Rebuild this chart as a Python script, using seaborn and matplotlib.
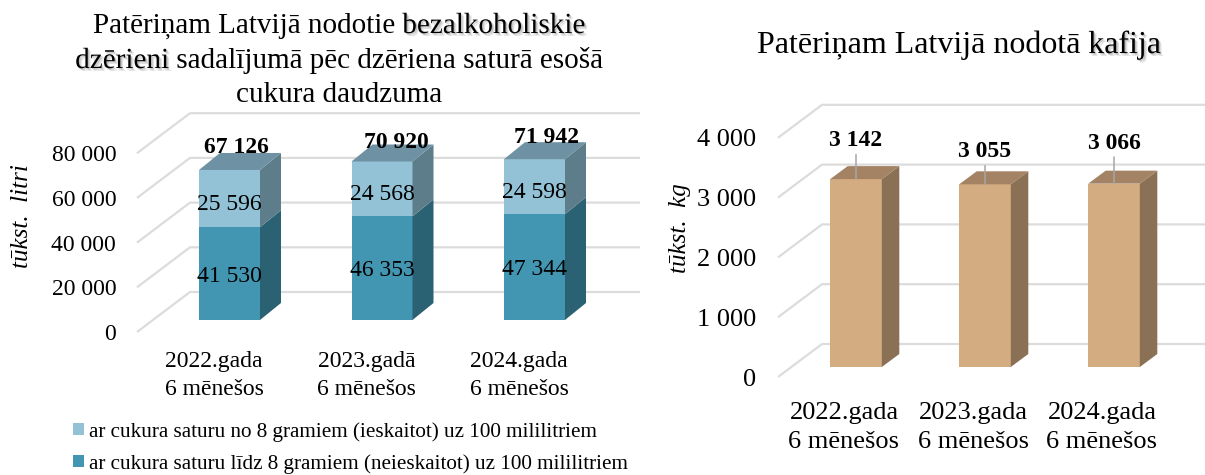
import matplotlib
matplotlib.use('Agg')
import matplotlib.pyplot as plt
import matplotlib.patheffects as pe
from matplotlib.patches import Patch
from matplotlib.transforms import ScaledTranslation
import pandas as pd
import seaborn as sns

# dati
periods = ['2022.gada\n6 mēnešos', '2023.gadā\n6 mēnešos', '2024.gada\n6 mēnešos']
periods_coffee = ['2022.gada\n6 mēnešos', '2023.gada\n6 mēnešos', '2024.gada\n6 mēnešos']
sugar_low = [41530, 46353, 47344]
sugar_high = [25596, 24568, 24598]
drink_totals = [67126, 70920, 71942]
coffee = [3142, 3055, 3066]
drink_ticks = [0, 20000, 40000, 60000, 80000]
coffee_ticks = [0, 1000, 2000, 3000, 4000]
legend_labels = ['ar cukura saturu no 8 gramiem (ieskaitot) uz 100 mililitriem',
                 'ar cukura saturu līdz 8 gramiem (neieskaitot) uz 100 mililitriem']

W, H = 1205, 475
sns.set_theme(style='white')
plt.rcParams['font.family'] = ['Liberation Serif', 'DejaVu Serif']
plt.rcParams['text.color'] = 'black'
plt.rcParams['xtick.labelcolor'] = 'black'
plt.rcParams['ytick.labelcolor'] = 'black'

fig = plt.figure(figsize=(W / 100, H / 100), dpi=100)
GRID = '#DCDCDC'


def fmt(v):
    return f'{v:,}'.replace(',', ' ')


def px_shift(ax, dx, dy):
    return ScaledTranslation(dx / 100, -dy / 100, fig.dpi_scale_trans)


def make_axes(left, right, top, bottom):
    return fig.add_axes([left / W, 1 - bottom / H, (right - left) / W, (bottom - top) / H])


def title_line(parts, cx, cy, size):
    # rindu liek pa gabaliem, jo ēna ir tikai uz daļas vārdu
    rend = fig.canvas.get_renderer()
    probe = fig.text(0, 0, '', fontsize=size)

    def width(s):
        probe.set_text(s + 'x')
        w = probe.get_window_extent(rend).width
        probe.set_text('x')
        return w - probe.get_window_extent(rend).width

    whole = ''.join(p[0] for p in parts)
    x = cx - width(whole) / 2
    prefix = ''
    for s, shadow in parts:
        t = fig.text((x + width(prefix)) / W, 1 - cy / H, s, fontsize=size, ha='left', va='center_baseline')
        if shadow:
            t.set_path_effects([
                pe.SimplePatchShadow(offset=(2, -2), shadow_rgbFace='#777777', alpha=0.22),
                pe.SimplePatchShadow(offset=(1, -1), shadow_rgbFace='#777777', alpha=0.35),
                pe.Normal()])
        prefix += s
    probe.remove()


def walls(ax, ticks, x_left, x_right, wall_dx, wall_dy, front_y):
    for v in ticks:
        ax.plot([x_left, x_left + wall_dx, x_right],
                [v + front_y, v + front_y + wall_dy, v + front_y + wall_dy],
                color=GRID, lw=1.6, zorder=1, clip_on=False, solid_capstyle='butt')


def box_faces(ax, xs, bottoms, tops, half, dx, dy, side, top=None):
    for x, b, t in zip(xs, bottoms, tops):
        r = x + half
        ax.fill([r, r + dx, r + dx, r], [b, b + dy, t + dy, t], color=side, lw=0, zorder=3)
        if top is not None:
            ax.fill([r - 2 * half, r - 2 * half + dx, r + dx, r], [t, t + dy, t + dy, t], color=top, lw=0, zorder=3)


# ---- bezalkoholiskie dzērieni ----
ax = make_axes(137, 640, 113, 332)
df = pd.DataFrame({'period': periods, 'low': sugar_low, 'total': drink_totals})
sns.barplot(df, x='period', y='total', color='#93C1D5', saturation=1, width=0.4, linewidth=0, ax=ax, zorder=3)
sns.barplot(df, x='period', y='low', color='#4296B2', saturation=1, width=0.4, linewidth=0, ax=ax, zorder=3)

px_x = 152.5
px_y = 2.235 / 1000
ax.set_xlim((137 - 229.5) / px_x, (640 - 229.5) / px_x)
ax.set_ylim(-12 / px_y, 207 / px_y)
xs = range(3)
walls(ax, drink_ticks, ax.get_xlim()[0], ax.get_xlim()[1], 53 / px_x, 40 / px_y, -12 / px_y)
box_faces(ax, xs, [0] * 3, sugar_low, 0.2, 21 / px_x, 17 / px_y, '#2A6273')
box_faces(ax, xs, sugar_low, drink_totals, 0.2, 21 / px_x, 17 / px_y, '#5E7D8A', top='#6E92A3')

total_nudge = [(7, -25), (14, -21), (12, -24)]
high_nudge = [3, 3, 3]
for i in xs:
    ax.annotate(fmt(sugar_low[i]), (i, sugar_low[i] / 2), ha='center', va='center_baseline',
                fontsize=17, zorder=5)
    ax.annotate(fmt(sugar_high[i]), (i, sugar_low[i] + sugar_high[i] / 2), xytext=(0, -high_nudge[i] * 0.72),
                textcoords='offset points', ha='center', va='center_baseline', fontsize=17, zorder=5)
    ax.annotate(fmt(drink_totals[i]), (i, drink_totals[i]),
                xytext=(total_nudge[i][0] * 0.72, -total_nudge[i][1] * 0.72),
                textcoords='offset points', ha='center', va='center_baseline',
                fontsize=17, fontweight='bold', zorder=5)

ax.set_yticks(drink_ticks, [fmt(v) for v in drink_ticks])
ax.set_xticks(list(xs), periods)
ax.tick_params(axis='y', length=0, pad=15, labelsize=17)
ax.tick_params(axis='x', length=0, pad=14, labelsize=17)
for lab in ax.get_yticklabels():
    lab.set_transform(lab.get_transform() + px_shift(ax, 0, 12))
for lab in ax.get_xticklabels():
    lab.set_transform(lab.get_transform() + px_shift(ax, -15.5, 0))
    lab.set_linespacing(1.44)
ax.set_xlabel('')
ax.set_ylabel('')
sns.despine(ax=ax, left=True, bottom=True)
fig.text(22 / W, 1 - 216 / H, 'tūkst.  litri', rotation=90, style='italic', fontsize=18, ha='center', va='center')

title_line([('Patēriņam Latvijā nodotie ', False), ('bezalkoholiskie', True)], 339, 23, 21)
title_line([('dzērieni', True), (' sadalījumā pēc dzēriena saturā esošā', False)], 339, 58, 21)
title_line([('cukura daudzuma', False)], 339, 92, 21)

handles = [Patch(color='#93C1D5', lw=0), Patch(color='#4296B2', lw=0)]
fig.legend(handles, legend_labels, loc='upper left', bbox_to_anchor=(73 / W, 1 - 422 / H), frameon=False,
           fontsize=15.2, handlelength=0.52, handleheight=0.52, handletextpad=0.22,
           borderpad=0, borderaxespad=0, labelspacing=0.57)

# ---- kafija ----
ax2 = make_axes(778, 1205, 104, 377)
cf = pd.DataFrame({'period': periods_coffee, 'coffee': coffee})
sns.barplot(cf, x='period', y='coffee', color='#D4AC82', saturation=1, width=0.4, linewidth=0, ax=ax2, zorder=3)

px_x2 = 129
px_y2 = 59.8 / 1000
ax2.set_xlim((778 - 856) / px_x2, (1205 - 856) / px_x2)
ax2.set_ylim(-10 / px_y2, 263 / px_y2)
walls(ax2, coffee_ticks, ax2.get_xlim()[0], ax2.get_xlim()[1], 44 / px_x2, 33 / px_y2, -10 / px_y2)
box_faces(ax2, xs, [0] * 3, coffee, 0.2, 17.5 / px_x2, 13 / px_y2, '#8A7054', top='#A38363')

coffee_nudge = [41, 35, 43]
for i in xs:
    ax2.annotate(fmt(coffee[i]), (i, coffee[i]), xytext=(0, coffee_nudge[i] * 0.72),
                 textcoords='offset points', ha='center', va='center_baseline',
                 fontsize=17, fontweight='bold', zorder=5,
                 arrowprops=dict(arrowstyle='-', color='#A6A6A6', lw=1.1, shrinkA=0, shrinkB=0, relpos=(0.5, 0)))

ax2.set_yticks(coffee_ticks, [fmt(v) for v in coffee_ticks])
ax2.set_xticks(list(xs), periods_coffee)
ax2.tick_params(axis='y', length=0, pad=16, labelsize=19)
ax2.tick_params(axis='x', length=0, pad=18, labelsize=19)
for lab in ax2.get_yticklabels():
    lab.set_transform(lab.get_transform() + px_shift(ax2, 0, 10))
for lab in ax2.get_xticklabels():
    lab.set_transform(lab.get_transform() + px_shift(ax2, -12, 0))
    lab.set_linespacing(1.4)
ax2.set_xlabel('')
ax2.set_ylabel('')
sns.despine(ax=ax2, left=True, bottom=True)
fig.text(680 / W, 1 - 228 / H, 'tūkst.  kg', rotation=90, style='italic', fontsize=18, ha='center', va='center')

title_line([('Patēriņam Latvijā nodotā ', False), ('kafija', True)], 959, 42, 23)

fig.savefig('out.png', dpi=100)
